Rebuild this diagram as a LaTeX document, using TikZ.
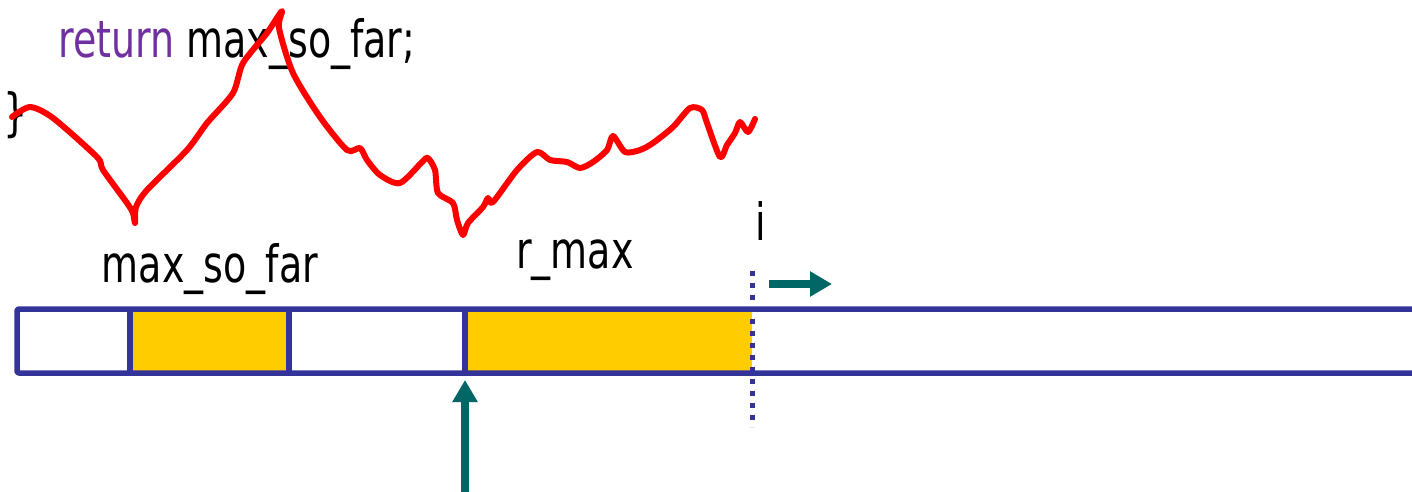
\documentclass[tikz,border=0pt]{standalone}
\usepackage{fontspec}
\usepackage{graphicx}
\setmainfont{DejaVu Sans}
\usetikzlibrary{arrows.meta,positioning}
\definecolor{navy}{HTML}{333399}
\definecolor{gold}{HTML}{FFCC00}
\definecolor{arrteal}{HTML}{006666}
\definecolor{kwpurple}{HTML}{7030A0}
\newcommand{\tall}[1]{\scalebox{1}[1.35]{#1}}

\begin{document}
\begin{tikzpicture}[x=1pt,y=-1pt,
cell/.style={fill=gold,inner sep=0pt,outer sep=0pt,minimum height=64pt,anchor=north west},
frame/.style={draw=navy,line width=5.5pt,line join=round},
idx/.style={draw=navy,line width=5pt,dash pattern=on 5pt off 7pt},
lbl/.style={font=\fontsize{38}{44}\selectfont,inner sep=0pt,anchor=base},
mv/.style={draw=arrteal,line width=8pt,-{Triangle[length=22pt,width=24pt]}},
ink/.style={draw=red,line width=6pt,line cap=round,line join=round}]
\clip (0,0) rectangle (1412,491);
\fill[white] (0,0) rectangle (1412,491);

% code text
\node[lbl,anchor=base west] (ret) at (58,57) {\tall{\textcolor{kwpurple}{return} max\_so\_far;}};
\node[lbl,anchor=base west] (brace) at (3,130) {\tall{\}}};

% freehand curve
\draw[ink] plot[smooth,tension=0.45] coordinates {
(12,117) (30,107) (53,118) (97,157) (103,170) (127,203) (133,213) (135,223)
(136,207) (147,190) (187,150) (207,123) (233,93) (243,63) (267,33) (282,11)
(279,28) (293,73) (320,117) (347,150) (360,148) (367,160) (380,175) (400,183)
(423,161) (428,158) (435,170) (438,193) (453,203) (457,220) (463,235) (468,223)
(483,207) (488,198) (493,202) (517,170) (537,152) (550,160) (567,162) (580,168)
(593,162) (607,150) (613,136) (625,152) (640,150) (653,143) (673,127) (690,108)
(702,110) (707,123) (720,157) (727,145) (735,133) (740,122) (748,132) (755,119)};

% array
\node[cell,minimum width=159pt] (best) at (130,309) {};
\node[cell,minimum width=287pt] (cur) at (465,309) {};
\draw[frame,rounded corners=2pt] (1440,309) -- (17,309) -- (17,373) -- (1440,373);
\draw[frame] (best.north west) -- (best.south west);
\draw[frame] (best.north east) -- (best.south east);
\draw[frame] (cur.north west) -- (cur.south west);
\draw[idx] ([yshift=38pt]cur.north east) -- ([yshift=-54pt]cur.south east);

% labels
\node[lbl] (bestlbl) at (210,282) {\tall{max\_so\_far}};
\node[lbl] (curlbl) at (575,268) {\tall{r\_max}};
\node[lbl] (ilbl) at (761,240) {\tall{i}};

% arrows
\coordinate (go0) at (769,284);
\coordinate (go1) at (832,284);
\draw[mv] (go0) -- (go1);
\coordinate (ptr) at (465,496);
\draw[mv] (ptr) -- ([yshift=-7pt]cur.south west);
\end{tikzpicture}
\end{document}
